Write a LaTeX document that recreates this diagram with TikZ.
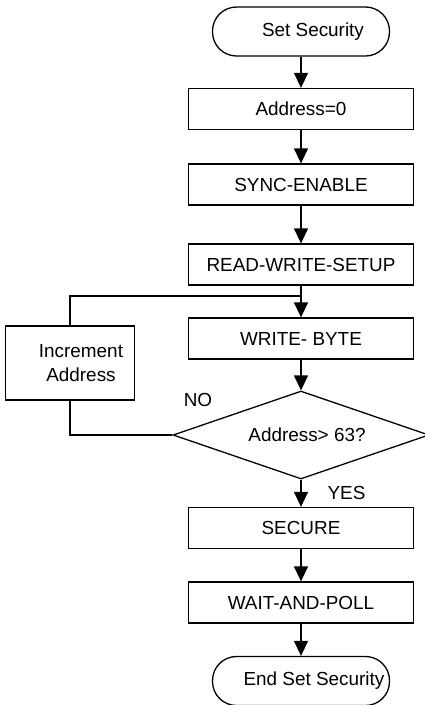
\documentclass[tikz,border=0pt]{standalone}
\usepackage{fontspec}
\setmainfont{Liberation Sans}
\usetikzlibrary{arrows.meta,shapes.geometric}

\tikzset{every picture/.style={line width=1.3pt}}
\tikzset{
  stepbox/.style={draw, rectangle, minimum width=225pt, minimum height=41pt, inner sep=0.75pt},
  terminal/.style={draw, rectangle, rounded corners=24pt, minimum width=177pt, minimum height=49pt, inner sep=0.75pt},
  decision/.style={draw, diamond, aspect=2.9, minimum width=256pt, minimum height=88pt, inner sep=0pt},
  flow/.style={-{Triangle[length=15pt,width=14pt]}}
}

\begin{document}
\begin{tikzpicture}[x=1pt,y=1pt,yscale=-1,xscale=1,font=\fontsize{18.9}{24}\selectfont]
\useasboundingbox (0,0) rectangle (424,705);

%Shape: Terminal [start]
\node [terminal] (start) at (301,31.5) {\hspace*{24pt}Set Security};
%Shape: Rectangle [addr]
\node [stepbox] (addr) at (301,109) {Address=0};
%Shape: Rectangle [sync]
\node [stepbox] (sync) at (301,184.5) {SYNC-ENABLE};
%Shape: Rectangle [rws]
\node [stepbox] (rws) at (301,264.5) {READ-WRITE-SETUP};
%Shape: Rectangle [wbyte]
\node [stepbox] (wbyte) at (301,338.5) {WRITE- BYTE};
%Shape: Diamond [test]
\node [decision] (test) at (301,435) {\hspace*{12pt}Address> 63?};
%Shape: Rectangle [inc]
\node [draw, minimum width=129pt, minimum height=74pt, align=center, inner sep=0.75pt] (inc) at (70,363)
  {\hspace*{22pt}Increment\\\hspace*{22pt}Address};
%Shape: Rectangle [secure]
\node [stepbox] (secure) at (301,528) {SECURE};
%Shape: Rectangle [wait]
\node [stepbox] (wait) at (301,602.5) {WAIT-AND-POLL};
%Shape: Terminal [stop]
\node [terminal] (stop) at (301,681) {\hspace*{26pt}End Set Security};

% Text Node
\node [inner sep=0.75pt] (no) at (198,400) {NO};
% Text Node
\node [inner sep=0.75pt] (yes) at (346.5,493) {YES};

%Straight Lines
\draw [flow] (start) -- (addr);
\draw [flow] (addr) -- (sync);
\draw [flow] (sync) -- (rws);
\draw [flow] (rws) -- (wbyte);
\draw [flow] (wbyte) -- (test);
\draw [flow] (test) -- (secure);
\draw [flow] (secure) -- (wait);
\draw [flow] (wait) -- (stop);

%Loop back
\coordinate (join) at (301,296);
\draw (test.west) -| (inc.south);
\draw (inc.north) |- (join);

\end{tikzpicture}
\end{document}
